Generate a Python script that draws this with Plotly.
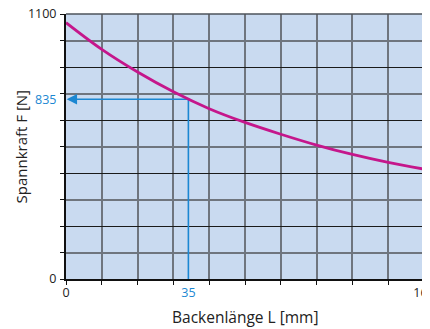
import plotly.graph_objects as go

# Curve: Backenlänge L [mm] -> Spannkraft F [N]
length_mm = [0, 16, 32, 48, 64, 80, 96, 112, 128, 144, 160]
force_n = [1064, 953, 859, 777, 707, 650, 601, 556, 517, 484, 456]

# Marked reading point (as drawn in the picture) and its labels
mark_x = 54.7
mark_y = 746
mark_x_label = "35"
mark_y_label = "835"

x_tick_vals = [0, 160]
x_tick_text = ["0", "160"]
y_tick_vals = [0, 1100]
y_tick_text = ["0", "1100"]

x_title = "Backenlänge L [mm]"
y_title = "Spannkraft F [N]"

BLUE = "#1b87d2"
MAGENTA = "#c5168b"
GRID = "#6f757e"
FONT = "Open Sans"

fig = go.Figure()

# blue reading lines
fig.add_trace(go.Scatter(
    x=[mark_x, mark_x, 1.5], y=[0, mark_y, mark_y], mode="lines",
    line=dict(color=BLUE, width=1.6), hoverinfo="skip", showlegend=False))

fig.add_trace(go.Scatter(
    x=length_mm, y=force_n, mode="lines",
    line=dict(color=MAGENTA, width=2.8, shape="spline", smoothing=1.0),
    showlegend=False))

# invisible trace for label axes
fig.add_trace(go.Scatter(x=[0, 160], y=[0, 1100], xaxis="x2", yaxis="y2",
                         mode="markers", marker=dict(opacity=0), hoverinfo="skip", showlegend=False))

fig.add_annotation(x=0.3, y=mark_y, ax=mark_x - 50, ay=mark_y, xref="x", yref="y",
                   axref="x", ayref="y", showarrow=True, arrowhead=2, arrowsize=1.3,
                   arrowwidth=1.6, arrowcolor=BLUE, text="")

fig.add_annotation(text=x_title, xref="paper", yref="paper", x=0.502, y=0, yshift=-38,
                   xanchor="center", yanchor="middle", showarrow=False,
                   font=dict(size=15.5, family=FONT, color="#222"))
fig.add_annotation(text=y_title, xref="paper", yref="paper", x=0, y=0.5, xshift=-46,
                   xanchor="center", yanchor="middle", showarrow=False, textangle=-90,
                   font=dict(size=15, family=FONT, color="#222"))

fig.update_layout(
    width=430, height=329,
    margin=dict(l=57.5, r=14, t=6, b=58, autoexpand=False),
    paper_bgcolor="white", plot_bgcolor="#c9daf0",
    font=dict(family=FONT, size=12.5, color="#222"),
    xaxis=dict(range=[0, 160], tick0=0, dtick=16, showgrid=True, gridcolor=GRID, gridwidth=1.6,
               zeroline=False, showline=True, linecolor="#111", linewidth=2,
               ticks="outside", ticklen=4, tickcolor="#111", tickwidth=1.3,
               showticklabels=False),
    yaxis=dict(range=[0, 1100], tick0=0, dtick=220, showgrid=True, gridcolor="#1a1a1a", gridwidth=1.4,
               minor=dict(dtick=110, showgrid=True, gridcolor=GRID, gridwidth=1.6,
                          ticks="outside", ticklen=4, tickcolor="#111", tickwidth=1.3),
               zeroline=False, showline=True, linecolor="#111", linewidth=2,
               ticks="outside", ticklen=4, tickcolor="#111", tickwidth=1.3,
               showticklabels=False),
    xaxis2=dict(range=[0, 160], overlaying="x", anchor="y2", side="bottom", showgrid=False,
                zeroline=False, tickmode="array", ticklabeloverflow="allow",
                tickvals=x_tick_vals + [mark_x],
                ticktext=x_tick_text + [f"<span style='color:{BLUE}'>{mark_x_label}</span>"],
                ticks="outside", ticklen=2, tickcolor="rgba(0,0,0,0)",
                tickfont=dict(size=12.5, family=FONT, color="#222")),
    yaxis2=dict(range=[0, 1100], overlaying="y", anchor="x2", side="left", showgrid=False,
                zeroline=False, tickmode="array", ticklabeloverflow="allow",
                tickvals=y_tick_vals + [mark_y],
                ticktext=y_tick_text + [f"<span style='color:{BLUE}'>{mark_y_label}</span>"],
                ticks="outside", ticklen=6, tickcolor="rgba(0,0,0,0)",
                tickfont=dict(size=12.5, family=FONT, color="#222")),
    shapes=[
        dict(type="line", xref="paper", yref="paper", x0=0, x1=1, y0=1, y1=1,
             line=dict(color="#4d535b", width=1.6)),
        dict(type="line", xref="paper", yref="paper", x0=1, x1=1, y0=0, y1=1,
             line=dict(color="#4d535b", width=1.6)),
    ],
)

fig.write_html("out.html")
